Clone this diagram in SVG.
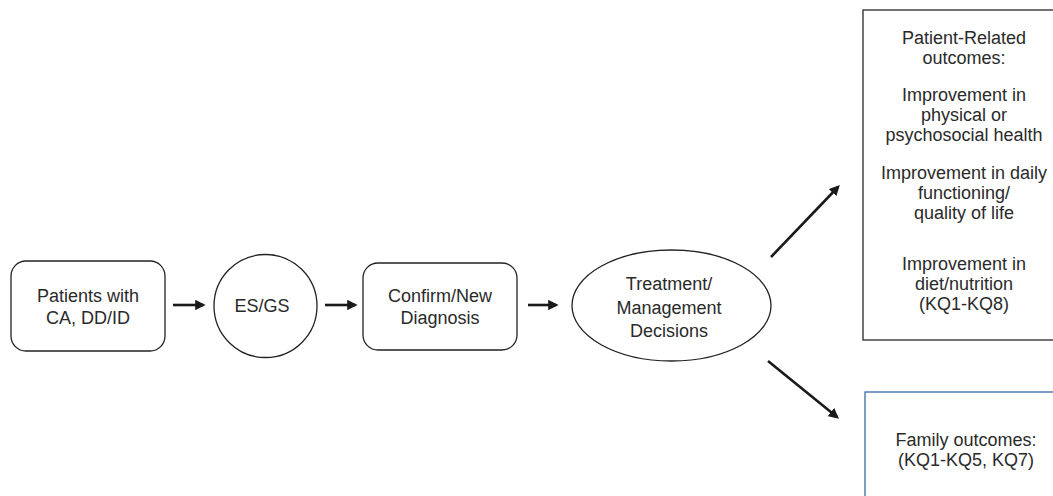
<svg xmlns="http://www.w3.org/2000/svg" width="1053" height="496" viewBox="0 0 1053 496">
<style>
text{font-family:"Liberation Sans",Arial,sans-serif;font-size:18px;fill:#2a2a2a;text-anchor:middle}
.shape{fill:#fff;stroke:#222;stroke-width:1.3}
.conn{stroke:#1a1a1a;stroke-width:2.6;fill:none;marker-end:url(#ah)}
</style>
<defs>
<marker id="ah" markerWidth="4" markerHeight="4" refX="3" refY="2" orient="auto" markerUnits="strokeWidth">
<path d="M0,0 L4,2 L0,4 Z" fill="#1a1a1a"/>
</marker>
</defs>
<rect width="1053" height="496" fill="#fff"/>
<g id="connectors">
<line class="conn" x1="173" y1="305" x2="203" y2="305"/>
<line class="conn" x1="325" y1="305" x2="355" y2="305"/>
<line class="conn" x1="528" y1="305" x2="556" y2="305"/>
<line class="conn" x1="771" y1="257" x2="838" y2="187"/>
<line class="conn" x1="768" y1="361" x2="837" y2="417"/>
</g>
<g id="patients">
<rect class="shape" x="11" y="261" width="154" height="90" rx="15"/>
<text x="88" y="302">Patients with</text>
<text x="88" y="324">CA, DD/ID</text>
</g>
<g id="esgs">
<circle class="shape" cx="265.5" cy="306" r="51.5"/>
<text x="262" y="312">ES/GS</text>
</g>
<g id="diagnosis">
<rect class="shape" x="363" y="263" width="154" height="87" rx="15"/>
<text x="440" y="302">Confirm/New</text>
<text x="440" y="324">Diagnosis</text>
</g>
<g id="treatment">
<ellipse class="shape" cx="671.5" cy="305.5" rx="99.5" ry="55.5"/>
<text x="669" y="290">Treatment/</text>
<text x="669" y="314">Management</text>
<text x="669" y="337">Decisions</text>
</g>
<g id="patient-outcomes">
<rect x="863" y="10" width="200" height="330" fill="#fff" stroke="#444" stroke-width="1.5"/>
<text x="964" y="44">Patient-Related</text>
<text x="964" y="64">outcomes:</text>
<text x="964" y="101">Improvement in</text>
<text x="964" y="121">physical or</text>
<text x="964" y="141">psychosocial health</text>
<text x="964" y="179">Improvement in daily</text>
<text x="964" y="199">functioning/</text>
<text x="964" y="219">quality of life</text>
<text x="964" y="270">Improvement in</text>
<text x="964" y="290">diet/nutrition</text>
<text x="964" y="310">(KQ1-KQ8)</text>
</g>
<g id="family-outcomes">
<rect x="865" y="392" width="200" height="120" fill="#fff" stroke="#3b6aa8" stroke-width="1.3"/>
<text x="966" y="446">Family outcomes:</text>
<text x="966" y="466">(KQ1-KQ5, KQ7)</text>
</g>
</svg>
